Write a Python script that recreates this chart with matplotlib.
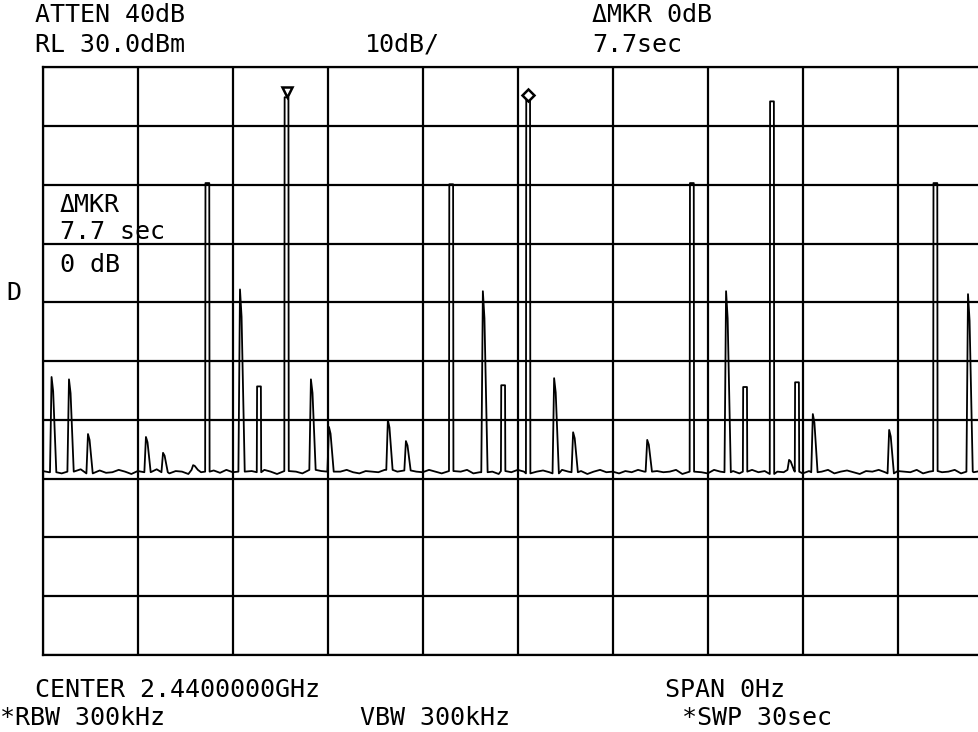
import numpy as np
import matplotlib.pyplot as plt
from matplotlib.transforms import offset_copy

# zero-span sweep, 30 sec, RL 30 dBm, 10 dB/div
sweep_sec = 30.0
ref_level = 30.0
db_per_div = 10.0

# pulses: time (sec), peak level (dBm), shape
peak_time = [0.28, 0.83, 1.43, 3.26, 3.80, 4.75, 5.20, 6.23, 6.83, 7.70,
             8.47, 9.04, 10.90, 11.47, 12.90, 13.90, 14.54, 15.33, 16.15, 16.75,
             19.09, 20.50, 21.58, 22.18, 23.03, 23.57, 23.82, 24.32, 26.73, 28.19,
             29.22]
peak_level = [-22.7, -23.1, -32.4, -32.9, -35.6, -37.7, 10.3, -7.8, -24.3, 24.9,
              -23.1, -31.2, -30.0, -33.6, 10.1, -8.1, -24.1, 24.4, -22.9, -32.1,
              -33.4, 10.3, -8.1, -24.4, 24.2, -36.8, -23.6, -29.0, -31.7, 10.3,
              -8.6]
peak_kind = ['s', 's', 's', 's', 's', 's', 'p', 's', 'p', 'p',
             's', 's', 's', 's', 'p', 's', 'p', 'p', 's', 's',
             's', 'p', 's', 'p', 'p', 's', 'p', 's', 's', 'p',
             's']

# noise floor, one reading every 0.2 sec
floor_level = [
    -38.7, -38.9, -38.5, -39.1, -38.8, -38.9, -38.4, -39.1, -38.8, -38.6,
    -39.0, -38.9, -38.5, -38.8, -39.2, -38.7, -38.9, -38.8, -38.4, -38.9,
    -39.1, -38.7, -38.8, -39.2, -38.5, -38.9, -38.8, -38.6, -39.0, -38.5,
    -38.9, -38.8, -39.1, -38.7, -38.9, -38.5, -38.8, -39.2, -38.7, -38.9,
    -38.8, -39.1, -38.5, -38.9, -38.7, -38.8, -39.2, -38.8, -38.5, -38.9,
    -39.1, -38.7, -38.8, -38.9, -38.5, -39.1, -38.8, -38.6, -39.2, -38.8,
    -38.9, -38.5, -38.8, -39.1, -38.7, -38.9, -38.8, -38.5, -39.1, -38.9,
    -38.7, -38.8, -39.2, -38.7, -38.9, -38.5, -38.8, -39.1, -38.8, -38.6,
    -38.9, -39.1, -38.5, -38.8, -38.9, -38.7, -39.2, -38.8, -38.5, -38.9,
    -38.8, -39.1, -38.7, -38.9, -38.5, -38.8, -39.1, -38.7, -38.9, -38.8,
    -38.5, -39.2, -38.8, -38.7, -38.9, -39.1, -38.5, -38.8, -38.9, -38.7,
    -39.1, -38.8, -38.5, -38.9, -38.7, -39.2, -38.8, -38.9, -38.5, -38.8,
    -39.1, -38.7, -38.9, -38.8, -38.5, -39.1, -38.8, -38.6, -38.9, -39.2,
    -38.7, -38.8, -38.5, -38.9, -39.1, -38.7, -38.8, -38.9, -38.5, -39.1,
    -38.8, -38.7, -38.9, -38.8, -38.5, -39.1, -38.8, -38.9, -38.7, -38.8,
    -38.9]
floor_time = np.linspace(0, sweep_sec, len(floor_level))

ref_mkr = 9    # triangle marker on this pulse
delta_mkr = 17  # diamond marker

# build the trace: floor readings with the pulses dropped in
spans = []
pts = []
for t, lvl, kind in zip(peak_time, peak_level, peak_kind):
    base = floor_level[int(np.argmin(np.abs(floor_time - t)))]
    if kind == 'p':
        h = 0.07
        v = [(t - h, base), (t - h + 0.01, lvl), (t + h - 0.01, lvl), (t + h, base)]
    else:
        v = [(t - 0.05, base), (t, lvl), (t + 0.05, lvl - 0.15 * (lvl - base)), (t + 0.15, base)]
    spans.append((v[0][0] - 0.03, v[-1][0] + 0.03))
    pts += v
for t, lvl in zip(floor_time, floor_level):
    if not any(a <= t <= b for a, b in spans):
        pts.append((t, lvl))
pts.sort()
trace_t = [p[0] for p in pts]
trace_l = [p[1] for p in pts]

W, H = 979, 732
fig = plt.figure(figsize=(W / 100, H / 100), dpi=100)
ax = fig.add_axes([42.7 / W, 1 - 655 / H, 950 / W, (655 - 67.3) / H])

ax.plot(trace_t, trace_l, color='black', lw=1.3, zorder=3)

mk = offset_copy(ax.transData, fig=fig, x=0, y=4, units='points')
ax.plot(peak_time[ref_mkr], peak_level[ref_mkr], marker='v', ms=7.5, mfc='white',
        mec='black', mew=1.8, transform=mk, zorder=4)
ax.plot(peak_time[delta_mkr], peak_level[delta_mkr], marker='D', ms=6.5, mfc='white',
        mec='black', mew=1.8, transform=mk, zorder=4)

ax.set_xlim(0, sweep_sec)
ax.set_ylim(ref_level - 10 * db_per_div, ref_level)
ax.set_xticks(np.arange(0, sweep_sec + 0.1, sweep_sec / 10))
ax.set_yticks(np.arange(ref_level - 10 * db_per_div, ref_level + 0.1, db_per_div))
ax.grid(True, color='black', lw=1.6)
ax.tick_params(length=0, labelbottom=False, labelleft=False)
for s in ax.spines.values():
    s.set_linewidth(1.6)

font = dict(family='DejaVu Sans Mono', fontsize=18, color='black', va='center')

def put(x, y, s):
    fig.text(x / W, 1 - y / H, s, **font)

put(35, 15, 'ATTEN 40dB')
put(592, 15, 'ΔMKR 0dB')
put(35, 45, 'RL 30.0dBm')
put(365, 45, '10dB/')
put(592, 45, '7.7sec')
put(60, 205, 'ΔMKR')
put(60, 232, '7.7 sec')
put(60, 265, '0 dB')
put(6, 293, 'D')
put(35, 690, 'CENTER 2.4400000GHz')
put(665, 690, 'SPAN 0Hz')
put(0, 718, '*RBW 300kHz')
put(360, 718, 'VBW 300kHz')
put(682, 718, '*SWP 30sec')

fig.savefig('out.png', dpi=100)
